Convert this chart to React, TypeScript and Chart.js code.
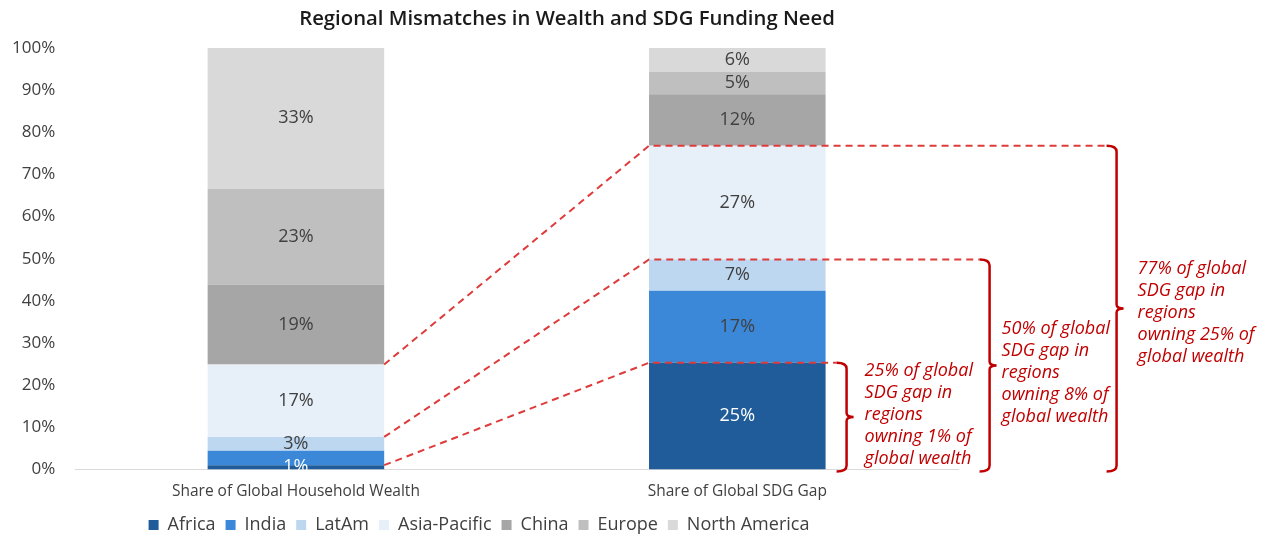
import { useEffect, useRef } from "react";
import { Chart, registerables } from "chart.js";

Chart.register(...registerables);

const categories = ["Share of Global Household Wealth", "Share of Global SDG Gap"];
const regions = ["Africa", "India", "LatAm", "Asia-Pacific", "China", "Europe", "North America"];
const africa = [1.0, 25.3];
const india = [3.4, 17.1];
const latam = [3.3, 7.4];
const asiaPacific = [17.2, 27.0];
const china = [19.0, 12.2];
const europe = [22.7, 5.3];
const northAmerica = [33.4, 5.7];
const seriesValues = [africa, india, latam, asiaPacific, china, europe, northAmerica];
const regionColors = ["#1F5C99", "#3B88D8", "#BDD7F0", "#E7EFF8", "#A6A6A6", "#BFBFBF", "#D9D9D9"];
const labelColors = ["#FFFFFF", "#404040", "#404040", "#404040", "#404040", "#404040", "#404040"];
const yTicks = [0, 10, 20, 30, 40, 50, 60, 70, 80, 90, 100];
const titleText = "Regional Mismatches in Wealth and SDG Funding Need";
// hidden value labels: [datasetIndex, categoryIndex]
const hiddenLabels = [[1, 0]];
// each bracket links the top of this region's segment in both bars
const linkRegionIndex = [0, 2, 3];
const bracketOffsets = [21, 164, 291];
const bracketTextOffsets = [18, 12, 21];
const bracketTextShift = [-2, 7, 4];
const bracketTexts = [
  ["25% of global", "SDG gap in", "regions", "owning 1% of", "global wealth"],
  ["50% of global", "SDG gap in", "regions", "owning 8% of", "global wealth"],
  ["77% of global", "SDG gap in", "regions", "owning 25% of", "global wealth"],
];

const FONT = "'Open Sans', 'Noto Sans', sans-serif";

const overlayPlugin = {
  id: "overlay",
  afterDatasetsDraw(chart: any) {
    const ctx = chart.ctx;
    // value labels
    ctx.save();
    ctx.font = `18px ${FONT}`;
    ctx.textAlign = "center";
    ctx.textBaseline = "middle";
    chart.data.datasets.forEach((ds: any, di: number) => {
      const meta = chart.getDatasetMeta(di);
      meta.data.forEach((el: any, ci: number) => {
        if (hiddenLabels.some((h) => h[0] === di && h[1] === ci)) return;
        const v = ds.data[ci];
        ctx.fillStyle = labelColors[di];
        ctx.fillText(Math.round(v) + "%", el.x, (el.y + el.base) / 2);
      });
    });
    ctx.restore();

    // links and brackets
    const y0 = chart.scales.y.getPixelForValue(0);
    linkRegionIndex.forEach((ri, k) => {
      const meta = chart.getDatasetMeta(ri);
      const w = meta.data[0];
      const s = meta.data[1];
      const wx = w.x + w.width / 2;
      const sx = s.x - s.width / 2;
      const sRight = s.x + s.width / 2;
      const bx = sRight + bracketOffsets[k];
      const top = s.y;
      ctx.save();
      ctx.strokeStyle = "#DE3B3B";
      ctx.lineWidth = 2;
      ctx.setLineDash([7, 5]);
      ctx.beginPath();
      ctx.moveTo(wx, w.y);
      ctx.lineTo(sx, top);
      ctx.lineTo(bx - 10, top);
      ctx.stroke();
      ctx.restore();

      // brace
      const bottom = y0 + 2;
      const mid = (top + bottom) / 2;
      ctx.save();
      ctx.strokeStyle = "#C00000";
      ctx.lineWidth = 2.5;
      ctx.beginPath();
      ctx.moveTo(bx - 10, top);
      ctx.quadraticCurveTo(bx, top, bx, top + 6);
      ctx.lineTo(bx, mid - 4);
      ctx.quadraticCurveTo(bx, mid, bx + 7, mid);
      ctx.quadraticCurveTo(bx, mid, bx, mid + 4);
      ctx.lineTo(bx, bottom - 6);
      ctx.quadraticCurveTo(bx, bottom, bx - 10, bottom);
      ctx.stroke();
      ctx.restore();

      // text
      const lines = bracketTexts[k];
      const lh = 22;
      const tx = bx + bracketTextOffsets[k];
      const ty0 = mid + bracketTextShift[k] - ((lines.length - 1) * lh) / 2;
      ctx.save();
      ctx.fillStyle = "#C00000";
      ctx.font = `italic 18px ${FONT}`;
      ctx.textAlign = "left";
      ctx.textBaseline = "middle";
      lines.forEach((t, i) => ctx.fillText(t, tx, ty0 + i * lh));
      ctx.restore();
    });

    // title
    ctx.save();
    ctx.fillStyle = "#1A1A1A";
    ctx.font = `600 20.3px ${FONT}`;
    ctx.textAlign = "center";
    ctx.textBaseline = "middle";
    ctx.fillText(titleText, 567, 19);
    ctx.restore();
  },
};

export default function App() {
  const ref = useRef<HTMLCanvasElement>(null);
  useEffect(() => {
    document.body.style.margin = "0";
    const chart = new Chart(ref.current as HTMLCanvasElement, {
      type: "bar",
      data: {
        labels: categories,
        datasets: regions.map((r, i) => ({
          label: r,
          data: seriesValues[i],
          backgroundColor: regionColors[i],
          borderWidth: 0,
          barPercentage: 0.5,
          categoryPercentage: 0.8,
        })),
      },
      options: {
        animation: false,
        responsive: false,
        maintainAspectRatio: false,
        layout: { padding: { top: 48, right: 310, left: 0, bottom: -10 } },
        scales: {
          x: {
            stacked: true,
            grid: { display: false },
            border: { display: true, color: "#D9D9D9", width: 1 },
            ticks: { color: "#404040", font: { family: FONT, size: 15.5 }, padding: 5 },
          },
          y: {
            stacked: true,
            min: 0,
            max: 100,
            afterBuildTicks: (axis: any) => {
              axis.ticks = yTicks.map((v) => ({ value: v }));
            },
            grid: { display: false },
            border: { display: false },
            ticks: {
              color: "#404040",
              font: { family: FONT, size: 17 },
              padding: 12,
              callback: (v: any) => v + "%",
            },
          },
        },
        plugins: {
          legend: {
            position: "bottom",
            labels: {
              boxWidth: 10,
              boxHeight: 10,
              padding: 10,
              color: "#404040",
              font: { family: FONT, size: 18 },
            },
          },
          title: { display: false },
          tooltip: { enabled: false },
        },
      },
      plugins: [overlayPlugin],
    } as any);
    return () => chart.destroy();
  }, []);
  return (
    <div style={{ position: "absolute", left: 0, top: 0, width: 1268, height: 534, background: "#fff" }}>
      <canvas ref={ref} width={1268} height={534} />
    </div>
  );
}
